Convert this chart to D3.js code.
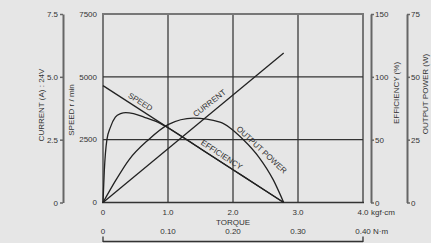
<!DOCTYPE html>
<html>
<head>
<meta charset="utf-8">
<script src="https://cdn.jsdelivr.net/npm/d3@7/dist/d3.min.js"></script>
<style>
  body { margin: 0; background: #e6e6e6; }
  svg { display: block; }
  text { font-family: "Liberation Sans", Arial, sans-serif; font-size: 8px; fill: #333; }
</style>
</head>
<body>
<div id="chart"></div>
<script>
const width = 431, height = 243;

// tick values
const torqueTicks = [0, 1, 2, 3, 4];          // kgf·cm
const torqueNmTicks = [0, 0.1, 0.2, 0.3, 0.4]; // N·m
const speedTicks = [0, 2500, 5000, 7500];
const currentTicks = [0, 2.5, 5, 7.5];
const effTicks = [0, 50, 100, 150];
const powerTicks = [0, 25, 50, 75];

// series [torque kgf·cm, value]
const speedData = [[0, 4650], [2.78, 0]];
const currentData = [[0, 0], [2.78, 5.95]];
const powerData = [[0, 0], [0.2, 9], [0.4, 17], [0.7, 25], [1.0, 31], [1.39, 33.6],
    [1.8, 32], [2.16, 25], [2.4, 18], [2.62, 9], [2.78, 0]];
const effData = [[0, 0], [0.02, 25], [0.06, 50], [0.115, 60], [0.19, 68], [0.27, 70.7],
    [0.35, 71.5], [0.47, 70.7], [0.63, 68], [0.88, 63], [1.0, 59.5], [1.5, 42.8],
    [2.0, 26.1], [2.5, 9.4], [2.78, 0]];

const svg = d3.select("#chart")
    .append("svg")
    .attr("width", width)
    .attr("height", height);

const plotL = 103, plotR = 363, plotT = 14, plotB = 202.5;

const x = d3.scaleLinear().domain([0, 4]).range([plotL, plotR]);
const xNm = d3.scaleLinear().domain([0, 0.4]).range([plotL, plotR]);
const ySpeed = d3.scaleLinear().domain([0, 7500]).range([plotB, plotT]);
const yCurrent = d3.scaleLinear().domain([0, 7.5]).range([plotB, plotT]);
const yEff = d3.scaleLinear().domain([0, 150]).range([plotB, plotT]);
const yPower = d3.scaleLinear().domain([0, 75]).range([plotB, plotT]);

// grid: vertical lines (grey, heavy)
svg.append("g")
    .selectAll("line")
    .data(torqueTicks.slice(1))
    .join("line")
    .attr("x1", d => x(d)).attr("x2", d => x(d))
    .attr("y1", plotT).attr("y2", plotB)
    .attr("stroke", "#777").attr("stroke-width", 2);

// left border and top border
svg.append("line")
    .attr("x1", plotL).attr("x2", plotL).attr("y1", plotT - 1).attr("y2", plotB)
    .attr("stroke", "#777").attr("stroke-width", 2);
svg.append("line")
    .attr("x1", plotL).attr("x2", plotR + 1).attr("y1", ySpeed(7500)).attr("y2", ySpeed(7500))
    .attr("stroke", "#777").attr("stroke-width", 2);

// horizontal grid (dark)
svg.append("g")
    .selectAll("line")
    .data([2500, 5000])
    .join("line")
    .attr("x1", plotL).attr("x2", plotR)
    .attr("y1", d => ySpeed(d)).attr("y2", d => ySpeed(d))
    .attr("stroke", "#333").attr("stroke-width", 1.3);

// bottom axis
svg.append("line")
    .attr("x1", plotL - 1).attr("x2", plotR + 1).attr("y1", plotB).attr("y2", plotB)
    .attr("stroke", "#333").attr("stroke-width", 1.5);

// speed labels
svg.append("g")
    .selectAll("text")
    .data(speedTicks)
    .join("text")
    .attr("x", plotL - 6)
    .attr("y", d => ySpeed(d))
    .attr("dy", "0.35em")
    .attr("text-anchor", "end")
    .text(d => d);

// current axis (left)
const leftAxis = d3.axisLeft(yCurrent)
    .tickValues(currentTicks)
    .tickSize(3)
    .tickPadding(2)
    .tickSizeOuter(0)
    .tickFormat(d => d === 0 ? "0" : d3.format(".1f")(d));
const gCur = svg.append("g")
    .attr("transform", "translate(63,0)")
    .call(leftAxis);

// efficiency + output power axes (right)
const effAxis = d3.axisRight(yEff).tickValues(effTicks).tickSize(3).tickPadding(1).tickSizeOuter(0);
const gEff = svg.append("g").attr("transform", "translate(371,0)").call(effAxis);
const powerAxis = d3.axisRight(yPower).tickValues(powerTicks).tickSize(3).tickPadding(1).tickSizeOuter(0);
const gPow = svg.append("g").attr("transform", "translate(407,0)").call(powerAxis);

[gCur, gEff, gPow].forEach(g => {
    g.select(".domain").attr("stroke", "#666").attr("stroke-width", 2);
    g.selectAll(".tick line").attr("stroke", "#666").attr("stroke-width", 1.5);
    g.selectAll("text")
        .style("font-family", "'Liberation Sans', Arial, sans-serif")
        .style("font-size", "8px")
        .attr("fill", "#333");
});

// torque kgf·cm labels
svg.append("g")
    .selectAll("text")
    .data(torqueTicks)
    .join("text")
    .attr("x", d => x(d))
    .attr("y", 215)
    .attr("text-anchor", "middle")
    .text(d => d === 0 ? "0" : d3.format(".1f")(d));
svg.append("text").attr("x", x(4) + 8).attr("y", 215).text("kgf·cm");
svg.append("text").attr("x", x(2)).attr("y", 225).attr("text-anchor", "middle").text("TORQUE");

// N·m scale
svg.append("g")
    .selectAll("text")
    .data(torqueNmTicks)
    .join("text")
    .attr("x", d => xNm(d))
    .attr("y", 234)
    .attr("text-anchor", "middle")
    .text(d => d === 0 ? "0" : d3.format(".2f")(d));
svg.append("text").attr("x", xNm(0.4) + 10).attr("y", 234).text("N·m");
svg.append("line")
    .attr("x1", xNm(0)).attr("x2", xNm(0.4)).attr("y1", 241.5).attr("y2", 241.5)
    .attr("stroke", "#333").attr("stroke-width", 1.3);
svg.append("g")
    .selectAll("line")
    .data([0, 0.4])
    .join("line")
    .attr("x1", d => xNm(d)).attr("x2", d => xNm(d))
    .attr("y1", 236.5).attr("y2", 242)
    .attr("stroke", "#333").attr("stroke-width", 1.3);

// axis titles
const titles = [
    ["CURRENT (A) : 24V", 44, 105],
    ["SPEED r / min", 74, 110],
    ["EFFICIENCY (%)", 399, 93],
    ["OUTPUT POWER (W)", 428, 94]
];
svg.append("g")
    .selectAll("text")
    .data(titles)
    .join("text")
    .attr("transform", d => `translate(${d[1]},${d[2]}) rotate(-90)`)
    .attr("text-anchor", "middle")
    .text(d => d[0]);

// curves
const line = (ys) => d3.line()
    .x(d => x(d[0]))
    .y(d => ys(d[1]))
    .curve(d3.curveMonotoneX);

const curves = [
    [speedData, ySpeed],
    [currentData, yCurrent],
    [powerData, yPower],
    [effData, yEff]
];
svg.append("g")
    .selectAll("path")
    .data(curves)
    .join("path")
    .attr("d", d => line(d[1])(d[0]))
    .attr("fill", "none")
    .attr("stroke", "#222")
    .attr("stroke-width", 1.3);

// curve labels
const curveLabels = [
    ["SPEED", x(0.52), ySpeed(3780), 32, -4],
    ["CURRENT", x(1.72), yCurrent(3.68), -38, -6],
    ["EFFICIENCY", x(1.77), yEff(33.5), 33, -4],
    ["OUTPUT POWER", x(2.37), yPower(19), 43, -4]
];
svg.append("g")
    .selectAll("text")
    .data(curveLabels)
    .join("text")
    .attr("transform", d => `translate(${d[1]},${d[2]}) rotate(${d[3]})`)
    .attr("text-anchor", "middle")
    .attr("dy", d => d[4])
    .text(d => d[0]);
</script>
</body>
</html>
